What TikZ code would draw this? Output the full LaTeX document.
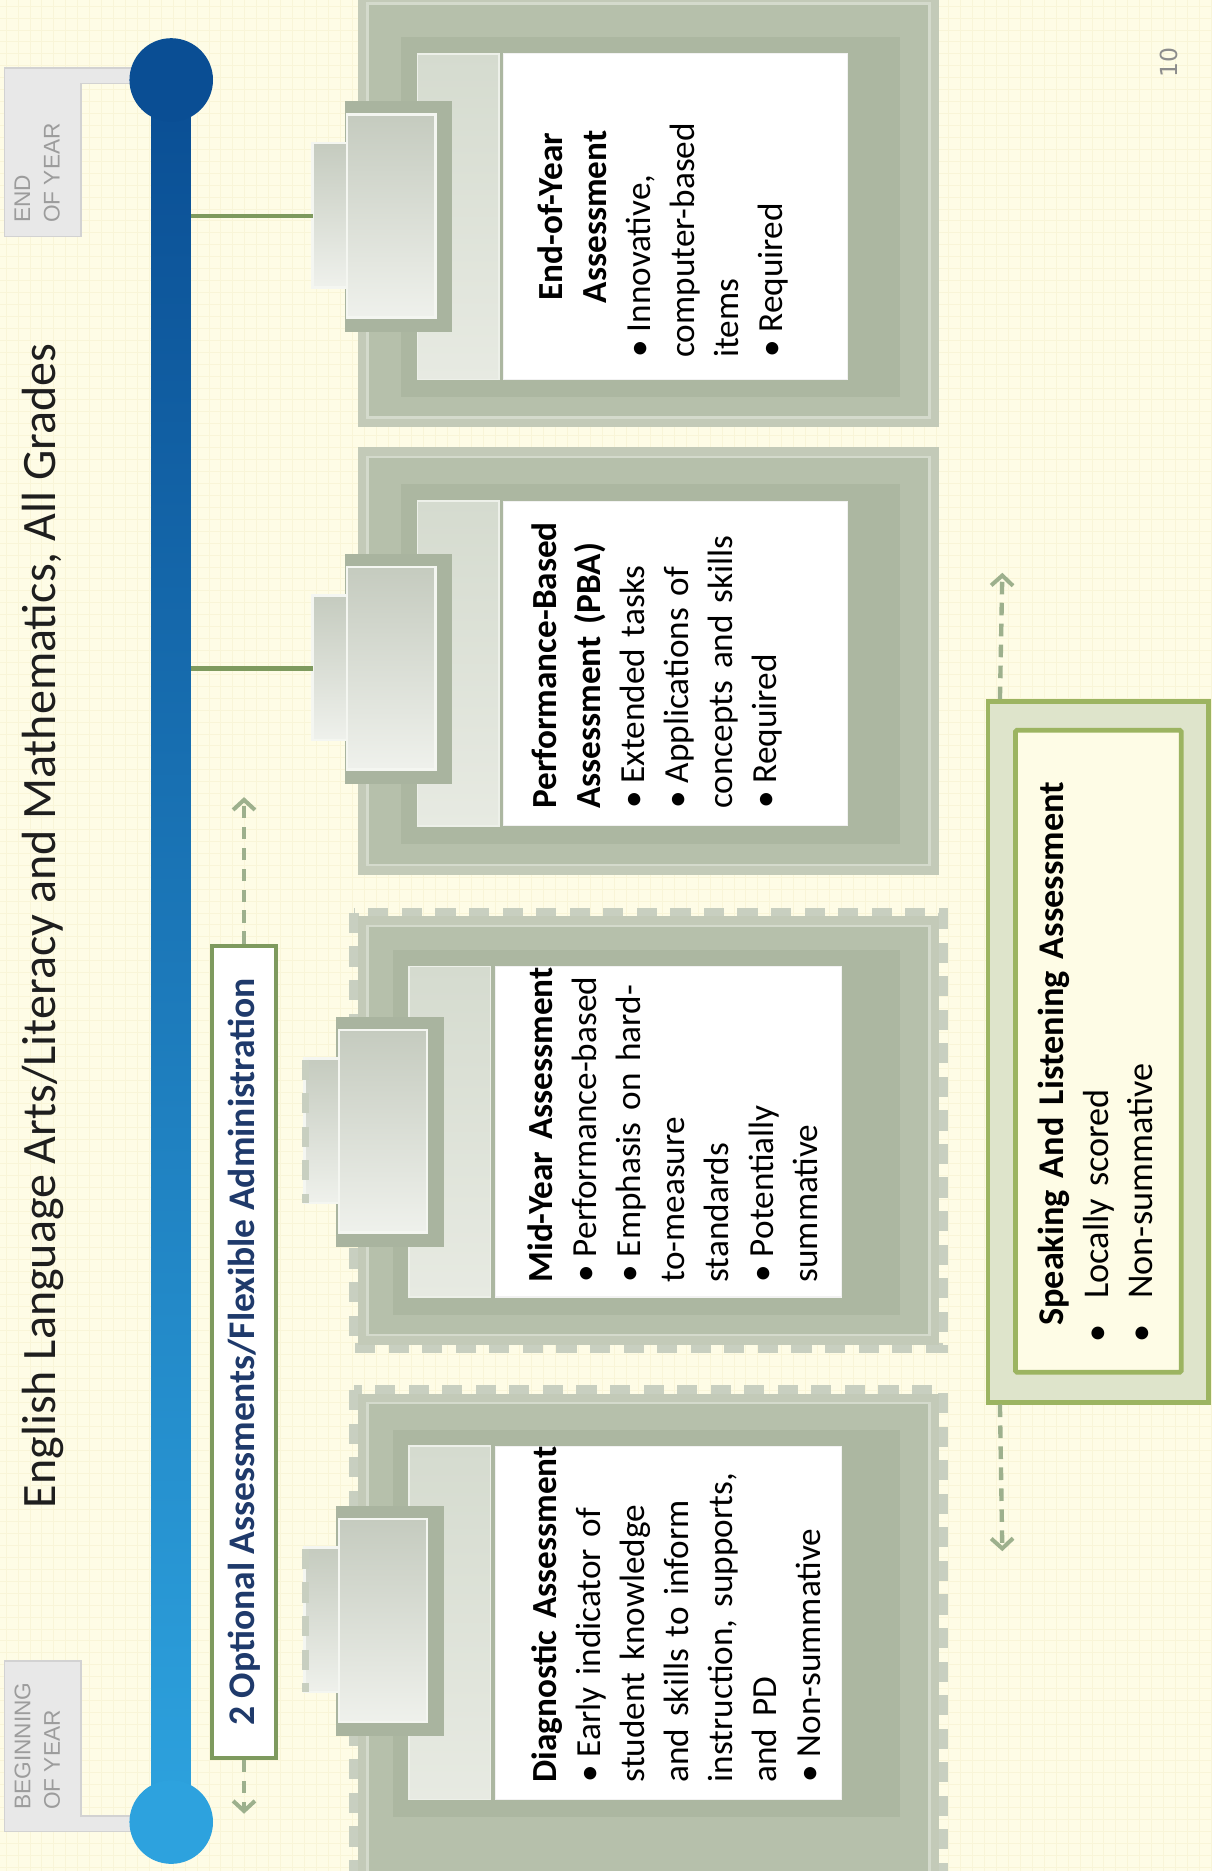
\documentclass[tikz,border=0pt]{standalone}
\usepackage{fontspec}
\setmainfont{Carlito}
\newfontfamily\lsans{Liberation Sans}
\newfontfamily\dvsans{DejaVu Sans}
\usetikzlibrary{arrows.meta,calc}
\setlength\parindent{0pt}
\hyphenpenalty=10000
\exhyphenpenalty=10000

\definecolor{bgc}{HTML}{FEFCE6}
\definecolor{gridc}{HTML}{F9F5D8}
\definecolor{frameA}{HTML}{C3CAB8}
\definecolor{frameB}{HTML}{B6C0AB}
\definecolor{frameC}{HTML}{ACB7A1}
\definecolor{frameL}{HTML}{D4DACC}
\definecolor{frameP}{HTML}{C8CFC0}
\definecolor{tabback}{HTML}{A9B49F}
\definecolor{tabtop}{HTML}{C5CBBF}
\definecolor{tabbot}{HTML}{EFF1EC}
\definecolor{tabedge}{HTML}{F4F6F1}
\definecolor{striptop}{HTML}{D5DBCF}
\definecolor{stripbot}{HTML}{E7EAE2}
\definecolor{stripedge}{HTML}{EDF0E9}
\definecolor{conng}{HTML}{7E9A5E}
\definecolor{sage}{HTML}{9DB08D}
\definecolor{navy}{HTML}{1F3A6B}
\definecolor{slfill}{HTML}{DEE4CB}
\definecolor{slline}{HTML}{9CB461}
\definecolor{labelgray}{HTML}{9C9C9C}
\definecolor{labelfill}{HTML}{E8E8E8}
\definecolor{labelline}{HTML}{D2D2D2}
\definecolor{bardark}{HTML}{0A4E94}
\definecolor{barmid}{HTML}{1468B0}
\definecolor{barlight}{HTML}{2DA2DE}
\definecolor{titlec}{HTML}{1E1E1E}
\definecolor{pgray}{HTML}{8C8C8C}

\newcommand\bl[1]{\par\hangindent=0.72em\hangafter=1\noindent\makebox[0.72em][l]{•}#1}
\newcommand\bls[1]{\par\hangindent=1.2em\hangafter=1\noindent\makebox[1.2em][l]{•}#1}

% #1 outer top, #2 outer bottom, #3 white top, #4 white bottom, #5 tab centre, #6 dx
\newcommand\drawcard[6]{%
  \fill[frameA] (300,{#1}) rectangle (787,{#2});
  \draw[frameL, line width=1.4pt, fill=frameB] (308,{#1+8}) rectangle (779,{#2-8});
  \fill[frameC] ({336+(#6)},{#3-14}) rectangle (754,{#4+15});
  \draw[stripedge, line width=1pt, top color=striptop, bottom color=stripbot] ({350+(#6)},{#3}) rectangle ({418+(#6)},{#4});
  \fill[tabback] ({289+(#6)},{#5-96}) rectangle ({379+(#6)},{#5+97});
  \draw[tabedge, line width=1.5pt, top color=tabtop, bottom color=tabbot] ({291+(#6)},{#5-85}) rectangle ({365+(#6)},{#5+85});
  \draw[tabedge, line width=1.5pt, top color=tabtop, bottom color=tabbot] ({262+(#6)},{#5-61}) rectangle ({291+(#6)},{#5+60});
  \draw[white!90!gray, line width=0.8pt, fill=white] ({422+(#6)},{#3}) rectangle ({710+0.7*(#6)},{#4});
}

\tikzset{
  cardtxt/.style={rotate=90, anchor=north west, inner sep=0pt, text width=#1, align=left,
    font=\fontsize{21}{26.3}\selectfont},
  conn/.style={draw=conng, line width=2.9pt},
  sagearr/.style={draw=sage, line width=2.6pt, dash pattern=on 7.5pt off 5pt,
    -{Straight Barb[length=6pt,width=13pt,line width=2.4pt]}},
  labelbox/.style={fill=labelfill, draw=labelline, line width=0.8pt},
  labeltxt/.style={rotate=90, anchor=north west, inner sep=0pt, align=left, text=labelgray,
    font=\lsans\fontsize{13.5}{17.5}\selectfont},
  perf/.style={draw=frameP, line width=6pt, dash pattern=on 12pt off 8pt},
}

\begin{document}
\begin{tikzpicture}[x=0.025cm, y=-0.025cm]
\useasboundingbox (0,0) rectangle (1015,1568);
% background
\fill[bgc] (0,0) rectangle (1015,1568);
\foreach \gx in {5,15,...,1015} \draw[gridc, line width=0.35pt] (\gx,0) -- (\gx,1568);
\foreach \gy in {5,15,...,1565} \draw[gridc, line width=0.35pt] (0,\gy) -- (1015,\gy);

% title
\node[rotate=90, inner sep=0pt, text=titlec, font=\fontsize{28.6}{33}\selectfont] (title) at (36,776)
  {English Language Arts/Literacy and Mathematics, All Grades};

% page number
\node[rotate=90, inner sep=0pt, text=pgray, font=\dvsans\fontsize{14}{17}\selectfont] (pnum) at (980,52) {10};

% year labels
\filldraw[labelbox] (4,57) -- (115,57) -- (115,70) -- (68,70) -- (68,198) -- (4,198) -- cycle;
\node[labeltxt] (eoylab) at (12,187) {END\\OF YEAR};
\filldraw[labelbox] (4,1392) -- (68,1392) -- (68,1522) -- (115,1522) -- (115,1535) -- (4,1535) -- cycle;
\node[labeltxt] (boylab) at (12,1517) {BEGINNING\\OF YEAR};

% timeline bar
\node[draw=none, inner sep=0pt, minimum width=0.825cm, minimum height=36.5cm,
  top color=bardark, middle color=barmid, bottom color=barlight] (bar) at (143.5,797) {};
\node[circle, fill=bardark, inner sep=0pt, minimum size=1.75cm] (eoy) at (143.5,67) {};
\node[circle, fill=barlight, inner sep=0pt, minimum size=1.75cm] (boy) at (143.5,1527) {};

% cards
\drawcard{-5}{358}{45}{318}{181}{0}
\drawcard{375}{733}{420}{692}{560}{0}
\draw[perf] (297,765) rectangle (790,1130);
\drawcard{768}{1127}{810}{1087}{948}{-7}
\draw[perf] (297,1165) rectangle (790,1575);
\drawcard{1168}{1580}{1212}{1508}{1358}{-7}
\draw[perf, line width=4.5pt] (256,888) -- (256,1008);
\draw[perf, line width=4.5pt] (256,1298) -- (256,1418);

% connectors
\coordinate (tab1) at (262,181);
\coordinate (tab2) at (262,560);
\draw[conn] (bar.east |- tab1) -- (tab1);
\draw[conn] (bar.east |- tab2) -- (tab2);

% card texts
\node[cardtxt=5.9cm] (t1) at (450,300)
  {{\centering\bfseries End-of-Year\\Assessment\par}\bl{Innovative,\\computer-based\\items}\bl{Required}};
\node[cardtxt=7cm] (t2) at (445,678)
  {\hangindent=0.35em\hangafter=1{\bfseries Performance-Based\\Assessment (PBA)}\bl{Extended tasks}\bl{Applications of\\concepts and skills}\bl{Required}};
\node[cardtxt=7.5cm] (t3) at (442,1075)
  {{\bfseries Mid-Year Assessment}\bl{Performance-based}\bl{Emphasis on hard-\\to-measure\\standards}\bl{Potentially\\summative}};
\node[cardtxt=7.5cm] (t4) at (445,1494)
  {{\bfseries Diagnostic Assessment}\bl{Early indicator of\\student knowledge\\and skills to inform\\instruction, supports,\\and PD}\bl{Non-summative}};

% optional box
\node[draw=conng, line width=2.5pt, fill=white, inner sep=0pt, minimum width=1.325cm, minimum height=17cm] (opt) at (204.5,1133) {};
\node[rotate=90, inner sep=0pt, text=navy, font=\fontsize{22.4}{26}\selectfont\bfseries] (optt) at (opt.center)
  {2 Optional Assessments/Flexible Administration};
\coordinate (optup) at (204.5,668);
\coordinate (optdn) at (204.5,1520);
\draw[sagearr] (opt.north) -- (optup);
\draw[sagearr] (opt.south) -- (optdn);

% speaking and listening
\node[draw=slline, line width=2.8pt, fill=slfill, inner sep=0pt, minimum width=4.625cm, minimum height=14.675cm] (slo) at (920.5,881.5) {};
\node[draw=slline, line width=2.8pt, fill=bgc, rounded corners=1pt, inner sep=0pt, minimum width=3.475cm, minimum height=13.45cm] (sli) at (920.5,881) {};
\node[cardtxt=12cm, font=\fontsize{21.6}{26.3}\selectfont] (t5) at (870,1125)
  {\hspace*{0.45em}{\bfseries Speaking And Listening Assessment}\bls{Locally scored}\bls{Non-summative}};
\coordinate (slup) at (840,480);
\coordinate (sldn) at (840,1300);
\draw[sagearr] ($(slo.north west)+(12,0)$) -- (slup);
\draw[sagearr] ($(slo.south west)+(12,0)$) -- (sldn);
\end{tikzpicture}
\end{document}
